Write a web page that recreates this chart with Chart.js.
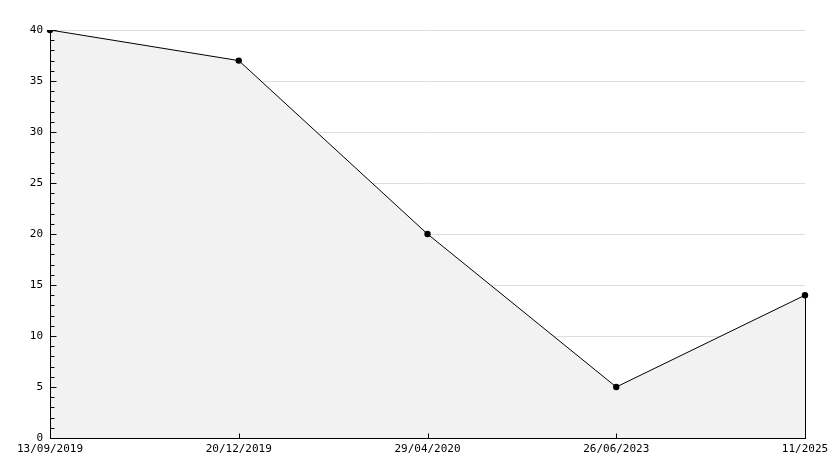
<!DOCTYPE html>
<html>
<head>
<meta charset="utf-8">
<script src="https://cdn.jsdelivr.net/npm/chart.js@4/dist/chart.umd.min.js"></script>
<style>
  html, body { margin: 0; padding: 0; background: #fff; }
  #wrap { width: 834px; height: 468px; }
</style>
</head>
<body>
<div id="wrap"><canvas id="chart" width="834" height="468"></canvas></div>
<script>
const dateLabels = ["13/09/2019", "20/12/2019", "29/04/2020", "26/06/2023", "11/2025"];
const counts = [40, 37, 20, 5, 14];
const yMin = 0;
const yMax = 40;
const yMajorStep = 5;
const yMinorStep = 1;

const tickFont = { family: "DejaVu Sans Mono", size: 11 };

// axes, tick marks and the closing right edge, drawn on top of the fill
const axisPlugin = {
  id: "axisMarks",
  afterDatasetsDraw(chart) {
    const { ctx, chartArea, scales } = chart;
    const x0 = Math.round(chartArea.left) + 0.5;
    const y0 = Math.round(chartArea.bottom) + 0.5;
    ctx.save();
    ctx.strokeStyle = "#000";
    ctx.lineWidth = 1;
    ctx.beginPath();
    ctx.moveTo(x0, Math.round(chartArea.top));
    ctx.lineTo(x0, y0);
    ctx.lineTo(Math.round(chartArea.right) + 1, y0);

    for (let v = yMin; v <= yMax; v += yMinorStep) {
      const y = Math.round(scales.y.getPixelForValue(v)) + 0.5;
      const len = v % yMajorStep === 0 ? 6 : 4;
      ctx.moveTo(x0, y);
      ctx.lineTo(x0 + len, y);
    }
    dateLabels.forEach((_, i) => {
      const x = Math.round(scales.x.getPixelForValue(i)) + 0.5;
      ctx.moveTo(x, y0);
      ctx.lineTo(x, y0 - 5);
    });

    const pts = chart.getDatasetMeta(0).data;
    const last = pts[pts.length - 1];
    const xr = Math.round(last.x) + 0.5;
    ctx.moveTo(xr, last.y);
    ctx.lineTo(xr, y0);
    ctx.stroke();
    ctx.restore();
  }
};

new Chart(document.getElementById("chart").getContext("2d"), {
  type: "line",
  data: {
    labels: dateLabels,
    datasets: [
      {
        data: counts,
        borderColor: "#000",
        borderWidth: 1,
        backgroundColor: "#f2f2f2",
        fill: "origin",
        tension: 0,
        pointRadius: 3.2,
        pointBackgroundColor: "#000",
        pointBorderColor: "#000",
        pointBorderWidth: 0,
      },
    ],
  },
  options: {
    responsive: false,
    animation: false,
    events: [],
    layout: { padding: { top: 30, right: 29, left: 0, bottom: 0 } },
    plugins: {
      legend: { display: false },
      tooltip: { enabled: false },
    },
    scales: {
      x: {
        type: "category",
        offset: false,
        grid: { display: false, drawTicks: false },
        border: { display: false },
        ticks: {
          color: "#000",
          font: tickFont,
          padding: 5,
          maxRotation: 0,
          autoSkip: false,
        },
        afterFit(scale) {
          scale.height = 30;
        },
      },
      y: {
        min: yMin,
        max: yMax,
        grid: { color: "#dedede", drawTicks: false },
        border: { display: false },
        ticks: {
          stepSize: yMajorStep,
          color: "#000",
          font: tickFont,
          padding: 7,
        },
        afterFit(scale) {
          scale.width = 50;
        },
      },
    },
  },
  plugins: [axisPlugin],
});
</script>
</body>
</html>
